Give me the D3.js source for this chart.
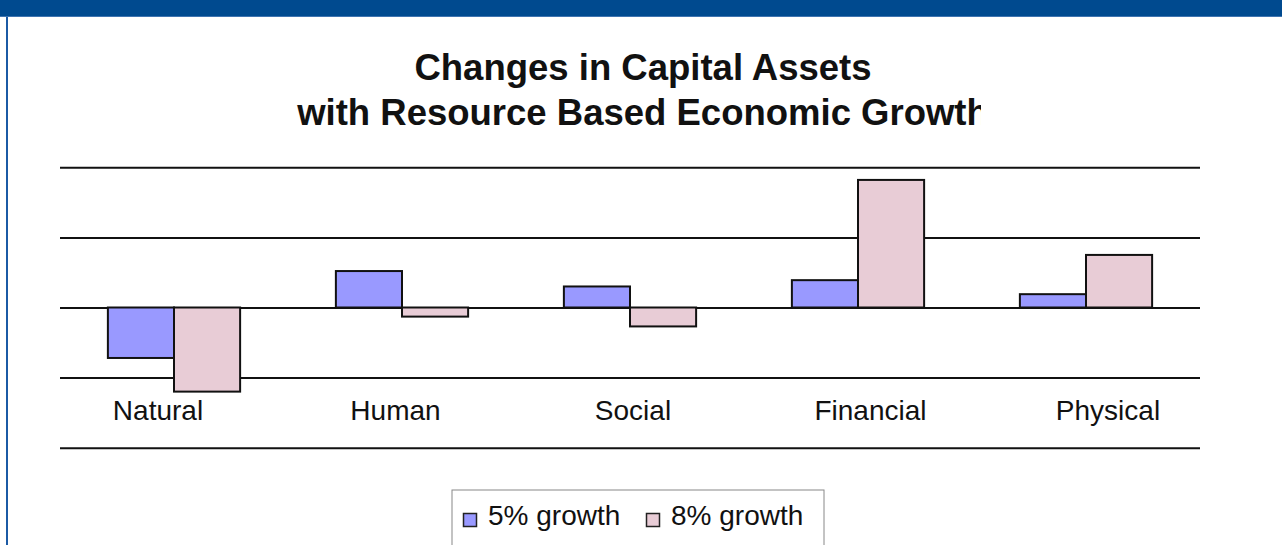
<!DOCTYPE html>
<html>
<head>
<meta charset="utf-8">
<script src="https://cdn.jsdelivr.net/npm/d3@7"></script>
<style>
  html, body { margin: 0; padding: 0; background: #fff; }
  svg { display: block; }
</style>
</head>
<body>
<svg id="chart" width="1282" height="545"></svg>
<script>
// ---- data ----
const categories = ["Natural", "Human", "Social", "Financial", "Physical"];
const seriesNames = ["5% growth", "8% growth"];
const growth5 = [-0.72, 0.52, 0.30, 0.39, 0.19];
const growth8 = [-1.20, -0.13, -0.27, 1.82, 0.75];
const gridTicks = [-2, -1, 0, 1, 2];
const titleLines = ["Changes in Capital Assets", "with Resource Based Economic Growth"];
const seriesColors = ["#9999ff", "#e8ccd6"];

const svg = d3.select("#chart");
const W = 1282, H = 545;

// frame: blue banner and left border
svg.append("rect").attr("x", 0).attr("y", 0).attr("width", W).attr("height", 17).attr("fill", "#004a8f");
svg.append("rect").attr("x", 0).attr("y", 16).attr("width", W).attr("height", 1).attr("fill", "#3f74b0");
svg.append("rect").attr("x", 6).attr("y", 17).attr("width", 2).attr("height", H - 17).attr("fill", "#1b5aa5");

// title (clipped on the right like the reference)
svg.append("clipPath").attr("id", "titleClip")
  .append("rect").attr("x", 0).attr("y", 0).attr("width", 981).attr("height", 160);
const title = svg.append("g").attr("clip-path", "url(#titleClip)");
title.selectAll("text").data(titleLines).join("text")
  .attr("x", 643)
  .attr("y", (d, i) => 80 + i * 45)
  .attr("text-anchor", "middle")
  .attr("font-family", "Liberation Sans, Arial, sans-serif")
  .attr("font-weight", "bold")
  .attr("font-size", 36.5)
  .attr("fill", "#111")
  .text(d => d);

// scales
const x0 = d3.scaleBand().domain(categories).range([60, 1200]).paddingInner(0.42).paddingOuter(0.21);
const x1 = d3.scaleBand().domain(seriesNames).range([0, x0.bandwidth()]);
const y = d3.scaleLinear().domain([-2, 2]).range([447.7, 167.3]);
const labelX = d3.scalePoint().domain(categories).range([158, 1108]);

// gridlines
const grid = svg.append("g").attr("transform", "translate(60,0)")
  .call(d3.axisLeft(y).tickValues(gridTicks).tickSize(-1140).tickFormat(""));
grid.select(".domain").remove();
grid.selectAll(".tick line").attr("stroke", "#111").attr("stroke-width", 2);

// bars
const rows = categories.map((c, i) => ({ cat: c, vals: [growth5[i], growth8[i]] }));
const groups = svg.append("g").selectAll("g").data(rows).join("g")
  .attr("transform", d => `translate(${x0(d.cat)},0)`);
groups.selectAll("rect").data(d => d.vals.map((v, j) => ({ v, s: seriesNames[j], j })))
  .join("rect")
  .attr("x", d => x1(d.s))
  .attr("width", x1.bandwidth())
  .attr("y", d => y(Math.max(0, d.v)))
  .attr("height", d => Math.abs(y(d.v) - y(0)))
  .attr("fill", d => seriesColors[d.j])
  .attr("stroke", "#111")
  .attr("stroke-width", 2);

// category labels
svg.append("g").selectAll("text").data(categories).join("text")
  .attr("x", d => labelX(d))
  .attr("y", 420)
  .attr("text-anchor", "middle")
  .attr("font-family", "Liberation Sans, Arial, sans-serif")
  .attr("font-size", 28)
  .attr("fill", "#111")
  .text(d => d);

// legend
const lg = svg.append("g");
lg.append("rect").attr("x", 452).attr("y", 490).attr("width", 372).attr("height", 80)
  .attr("fill", "#fff").attr("stroke", "#888").attr("stroke-width", 1);
const legendX = [463, 646];
const items = lg.selectAll("g.item").data(seriesNames).join("g").attr("class", "item")
  .attr("transform", (d, i) => `translate(${legendX[i]},0)`);
items.append("rect").attr("x", 0.5).attr("y", 513.5).attr("width", 13).attr("height", 13)
  .attr("fill", (d, i) => seriesColors[i]).attr("stroke", "#222").attr("stroke-width", 1.5);
items.append("text").attr("x", 25).attr("y", 525)
  .attr("font-family", "Liberation Sans, Arial, sans-serif")
  .attr("font-size", 28)
  .attr("fill", "#111")
  .text(d => d);
</script>
</body>
</html>
